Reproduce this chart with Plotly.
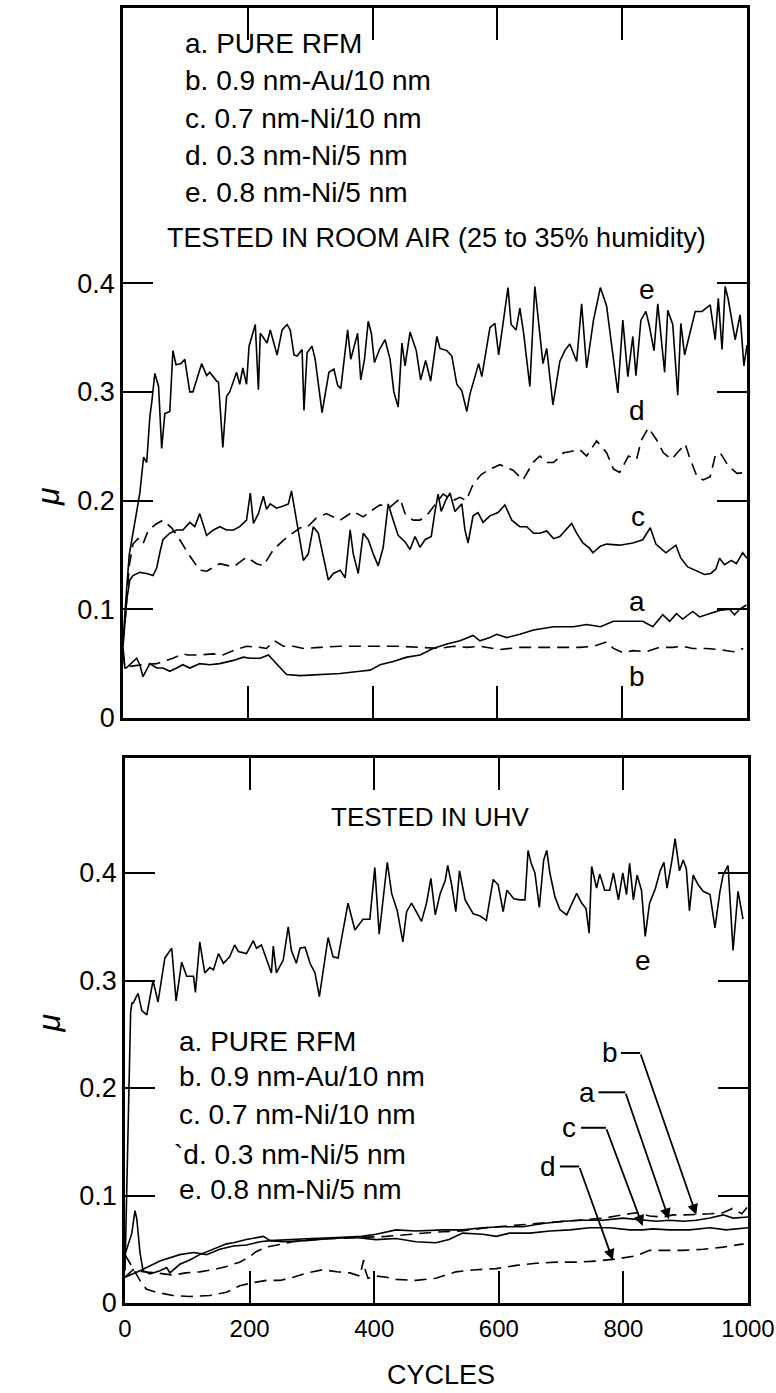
import plotly.graph_objects as go

W, H = 776, 1393
FONT = "Liberation Sans Narrow, Liberation Sans, Arial, sans-serif"

# ---- Room air tests: (cycles, friction coefficient) ----
air_a = [(0, 0.065), (3, 0.046), (5, 0.046), (13, 0.05), (22, 0.055), (27, 0.049), (32, 0.038),
         (43, 0.05), (54, 0.046), (64, 0.046), (75, 0.043), (86, 0.046), (96, 0.049), (107, 0.046),
         (123, 0.05), (139, 0.049), (155, 0.05), (177, 0.053), (193, 0.056), (204, 0.055),
         (220, 0.055), (233, 0.058), (241, 0.053), (252, 0.046), (262, 0.04), (284, 0.039),
         (316, 0.04), (348, 0.041), (380, 0.043), (396, 0.044), (412, 0.049), (433, 0.052),
         (455, 0.056), (476, 0.058), (497, 0.064), (519, 0.068), (540, 0.071), (556, 0.075),
         (561, 0.076), (572, 0.071), (588, 0.074), (599, 0.077), (615, 0.074), (636, 0.077),
         (658, 0.081), (690, 0.084), (722, 0.084), (743, 0.086), (765, 0.084), (786, 0.089),
         (807, 0.089), (833, 0.089), (849, 0.084), (865, 0.095), (876, 0.089), (887, 0.096),
         (897, 0.091), (913, 0.098), (924, 0.093), (940, 0.096), (956, 0.099), (972, 0.1),
         (980, 0.095), (988, 0.1), (999, 0.104)]

air_b = [(0, 0.06), (3, 0.047), (32, 0.049), (54, 0.05), (80, 0.055), (96, 0.059), (104, 0.058),
         (123, 0.058), (144, 0.059), (160, 0.058), (177, 0.062), (198, 0.066), (220, 0.065),
         (230, 0.064), (243, 0.071), (257, 0.066), (273, 0.066), (289, 0.064), (316, 0.065),
         (348, 0.066), (380, 0.066), (412, 0.066), (444, 0.066), (476, 0.065), (508, 0.064),
         (530, 0.066), (551, 0.065), (572, 0.066), (604, 0.063), (636, 0.065), (668, 0.065),
         (700, 0.065), (732, 0.065), (754, 0.066), (775, 0.07), (786, 0.064), (802, 0.06),
         (817, 0.062), (839, 0.061), (860, 0.065), (881, 0.065), (897, 0.066), (913, 0.064),
         (935, 0.064), (956, 0.063), (978, 0.061), (994, 0.064)]

air_c = [(0, 0.065), (6, 0.109), (11, 0.127), (16, 0.131), (27, 0.134), (38, 0.133), (48, 0.131),
         (54, 0.138), (59, 0.152), (64, 0.164), (75, 0.17), (86, 0.173), (96, 0.173), (107, 0.18),
         (115, 0.176), (123, 0.188), (134, 0.168), (145, 0.173), (155, 0.176), (166, 0.173),
         (177, 0.173), (187, 0.176), (198, 0.182), (204, 0.207), (209, 0.179), (217, 0.188),
         (225, 0.204), (230, 0.192), (236, 0.197), (246, 0.193), (257, 0.195), (265, 0.197),
         (270, 0.209), (278, 0.182), (284, 0.163), (289, 0.145), (297, 0.151), (305, 0.176),
         (313, 0.17), (321, 0.149), (329, 0.127), (337, 0.133), (348, 0.136), (356, 0.129),
         (364, 0.173), (369, 0.151), (377, 0.133), (385, 0.17), (393, 0.164), (401, 0.151),
         (409, 0.14), (417, 0.157), (425, 0.197), (433, 0.182), (441, 0.168), (452, 0.162),
         (460, 0.155), (468, 0.167), (476, 0.157), (484, 0.164), (494, 0.167), (500, 0.19),
         (505, 0.206), (510, 0.19), (517, 0.2), (524, 0.207), (532, 0.19), (543, 0.197),
         (548, 0.173), (553, 0.161), (561, 0.186), (569, 0.189), (577, 0.18), (588, 0.186),
         (601, 0.189), (612, 0.196), (623, 0.182), (636, 0.176), (647, 0.176), (658, 0.17),
         (668, 0.17), (679, 0.172), (690, 0.165), (700, 0.167), (711, 0.174), (719, 0.179),
         (727, 0.17), (737, 0.161), (748, 0.156), (753, 0.152), (765, 0.158), (775, 0.16),
         (796, 0.159), (817, 0.161), (833, 0.164), (845, 0.175), (854, 0.16), (870, 0.152),
         (886, 0.159), (894, 0.147), (905, 0.139), (921, 0.135), (932, 0.132), (942, 0.133),
         (950, 0.137), (956, 0.147), (964, 0.141), (975, 0.145), (983, 0.142), (993, 0.152),
         (1000, 0.147)]

air_d = [(0, 0.07), (5, 0.10), (10, 0.14), (16, 0.16), (24, 0.165), (32, 0.16), (40, 0.172),
         (52, 0.178), (64, 0.182), (78, 0.175), (91, 0.164), (107, 0.149), (123, 0.136),
         (134, 0.135), (155, 0.142), (177, 0.139), (198, 0.148), (214, 0.142), (225, 0.14),
         (241, 0.155), (262, 0.166), (284, 0.175), (294, 0.175), (310, 0.184), (326, 0.188),
         (348, 0.182), (369, 0.19), (385, 0.185), (396, 0.19), (412, 0.196), (428, 0.194),
         (444, 0.202), (452, 0.188), (465, 0.182), (476, 0.182), (489, 0.188), (497, 0.194),
         (513, 0.206), (529, 0.2), (540, 0.203), (550, 0.2), (561, 0.215), (574, 0.224),
         (588, 0.229), (604, 0.233), (625, 0.228), (641, 0.219), (657, 0.235), (668, 0.241),
         (679, 0.235), (690, 0.235), (706, 0.244), (716, 0.245), (732, 0.247), (743, 0.241),
         (759, 0.255), (775, 0.244), (786, 0.229), (796, 0.226), (810, 0.241), (823, 0.238),
         (831, 0.256), (842, 0.267), (855, 0.256), (866, 0.244), (879, 0.238), (893, 0.247),
         (901, 0.252), (909, 0.238), (920, 0.222), (930, 0.219), (941, 0.222), (949, 0.241),
         (957, 0.244), (970, 0.232), (984, 0.225), (1000, 0.226)]

air_e = [(0, 0.07), (3, 0.10), (6, 0.12), (10, 0.15), (16, 0.17), (21, 0.183), (27, 0.207),
         (33, 0.24), (38, 0.235), (43, 0.277), (46, 0.29), (51, 0.317), (57, 0.305), (62, 0.248),
         (67, 0.28), (75, 0.282), (80, 0.338), (85, 0.325), (93, 0.326), (99, 0.33), (107, 0.30),
         (112, 0.30), (126, 0.326), (134, 0.315), (139, 0.318), (150, 0.31), (153, 0.309),
         (160, 0.249), (166, 0.296), (171, 0.30), (182, 0.318), (187, 0.307), (192, 0.322),
         (198, 0.307), (202, 0.342), (212, 0.362), (217, 0.302), (220, 0.354), (231, 0.345),
         (236, 0.357), (247, 0.334), (255, 0.357), (263, 0.362), (268, 0.357), (274, 0.334),
         (279, 0.333), (287, 0.339), (290, 0.283), (295, 0.336), (303, 0.342), (308, 0.330),
         (319, 0.281), (330, 0.318), (338, 0.321), (344, 0.306), (349, 0.303), (360, 0.357),
         (365, 0.33), (376, 0.354), (381, 0.311), (387, 0.33), (393, 0.365), (398, 0.354),
         (403, 0.327), (411, 0.339), (420, 0.348), (428, 0.33), (434, 0.30), (441, 0.286),
         (447, 0.345), (452, 0.324), (460, 0.355), (470, 0.338), (477, 0.311), (485, 0.329),
         (493, 0.31), (503, 0.351), (508, 0.34), (519, 0.338), (527, 0.333), (535, 0.307),
         (543, 0.301), (551, 0.282), (556, 0.298), (570, 0.326), (575, 0.314), (588, 0.359),
         (596, 0.363), (602, 0.334), (617, 0.396), (622, 0.362), (630, 0.357), (636, 0.377),
         (642, 0.354), (652, 0.305), (660, 0.397), (673, 0.326), (679, 0.34), (689, 0.288),
         (700, 0.328), (708, 0.338), (716, 0.344), (727, 0.328), (735, 0.381), (743, 0.322),
         (754, 0.366), (765, 0.396), (775, 0.379), (786, 0.333), (793, 0.299), (801, 0.366),
         (809, 0.314), (817, 0.351), (822, 0.315), (830, 0.366), (838, 0.374), (843, 0.362),
         (851, 0.338), (857, 0.381), (868, 0.318), (873, 0.375), (881, 0.362), (889, 0.297),
         (894, 0.363), (900, 0.334), (917, 0.374), (928, 0.374), (941, 0.38), (949, 0.348),
         (954, 0.386), (960, 0.339), (965, 0.397), (970, 0.385), (981, 0.348), (989, 0.371),
         (995, 0.324), (1000, 0.343)]

# ---- UHV tests: (cycles, friction coefficient) ----
uhv_a = [(0, 0.024), (24, 0.03), (56, 0.039), (88, 0.045), (110, 0.047), (131, 0.045), (152, 0.05),
         (174, 0.053), (195, 0.054), (217, 0.057), (233, 0.058), (260, 0.059), (300, 0.06),
         (340, 0.061), (380, 0.062), (403, 0.064), (435, 0.068), (467, 0.067), (510, 0.068),
         (542, 0.068), (574, 0.07), (606, 0.071), (639, 0.071), (671, 0.074), (703, 0.076),
         (735, 0.077), (767, 0.077), (799, 0.079), (831, 0.077), (853, 0.076), (874, 0.077),
         (896, 0.076), (917, 0.077), (939, 0.079), (960, 0.082), (976, 0.079), (1000, 0.08)]

uhv_b = [(0, 0.024), (13, 0.031), (29, 0.029), (50, 0.028), (77, 0.026), (98, 0.028), (120, 0.029),
         (142, 0.031), (163, 0.034), (184, 0.038), (200, 0.043), (211, 0.048), (227, 0.052),
         (243, 0.054), (270, 0.057), (300, 0.059), (340, 0.06), (380, 0.061), (420, 0.062),
         (460, 0.064), (500, 0.066), (540, 0.067), (580, 0.07), (620, 0.072), (660, 0.074),
         (700, 0.076), (740, 0.078), (770, 0.079), (788, 0.081), (820, 0.084), (842, 0.081),
         (863, 0.08), (880, 0.082), (900, 0.082), (940, 0.083), (960, 0.084), (975, 0.088),
         (990, 0.083), (1000, 0.09)]

uhv_c = [(0, 0.045), (11, 0.065), (16, 0.086), (19, 0.078), (24, 0.047), (29, 0.03), (40, 0.027),
         (56, 0.03), (67, 0.033), (72, 0.028), (88, 0.036), (104, 0.04), (120, 0.045), (142, 0.05),
         (163, 0.055), (174, 0.056), (195, 0.059), (222, 0.062), (233, 0.058), (254, 0.057),
         (290, 0.058), (330, 0.06), (370, 0.061), (403, 0.059), (435, 0.06), (467, 0.057),
         (499, 0.056), (520, 0.059), (542, 0.065), (574, 0.064), (596, 0.062), (617, 0.065),
         (650, 0.065), (682, 0.067), (714, 0.068), (746, 0.07), (778, 0.07), (810, 0.068),
         (831, 0.068), (847, 0.069), (874, 0.068), (906, 0.068), (939, 0.07), (965, 0.068),
         (1000, 0.07)]

uhv_d = [(0, 0.045), (10, 0.035), (24, 0.021), (34, 0.013), (50, 0.01), (77, 0.007), (104, 0.006),
         (136, 0.007), (163, 0.01), (184, 0.016), (206, 0.019), (227, 0.021), (249, 0.021),
         (270, 0.024), (292, 0.028), (318, 0.031), (340, 0.029), (361, 0.028), (377, 0.025),
         (383, 0.04), (386, 0.03), (390, 0.023), (404, 0.025), (420, 0.024), (435, 0.022),
         (467, 0.021), (499, 0.023), (531, 0.029), (564, 0.031), (596, 0.032), (628, 0.035),
         (660, 0.037), (692, 0.038), (724, 0.038), (756, 0.039), (789, 0.041), (821, 0.044),
         (842, 0.049), (864, 0.049), (896, 0.049), (928, 0.05), (960, 0.052), (993, 0.055)]

uhv_e = [(0, 0.03), (3, 0.12), (6, 0.21), (9, 0.27), (11, 0.279), (13, 0.279), (21, 0.288),
         (27, 0.272), (35, 0.268), (45, 0.3), (53, 0.28), (64, 0.321), (75, 0.33), (82, 0.281),
         (91, 0.317), (99, 0.304), (110, 0.304), (113, 0.289), (120, 0.336), (128, 0.307),
         (136, 0.312), (142, 0.31), (150, 0.325), (158, 0.316), (168, 0.322), (176, 0.333),
         (182, 0.327), (195, 0.325), (206, 0.337), (211, 0.33), (219, 0.333), (230, 0.316),
         (235, 0.307), (238, 0.332), (243, 0.307), (254, 0.319), (262, 0.35), (267, 0.328),
         (275, 0.316), (281, 0.33), (289, 0.331), (297, 0.316), (305, 0.307), (312, 0.285),
         (318, 0.307), (326, 0.34), (334, 0.322), (342, 0.321), (347, 0.337), (358, 0.372),
         (369, 0.347), (382, 0.357), (393, 0.357), (401, 0.405), (408, 0.343), (421, 0.41),
         (428, 0.381), (437, 0.365), (446, 0.336), (452, 0.364), (460, 0.372), (468, 0.364),
         (476, 0.355), (484, 0.372), (491, 0.395), (498, 0.361), (506, 0.381), (514, 0.393),
         (518, 0.407), (524, 0.39), (531, 0.364), (537, 0.402), (546, 0.375), (559, 0.362),
         (570, 0.36), (580, 0.356), (591, 0.394), (599, 0.389), (607, 0.364), (613, 0.384),
         (624, 0.376), (634, 0.375), (642, 0.375), (647, 0.421), (652, 0.409), (658, 0.4),
         (665, 0.368), (672, 0.412), (677, 0.421), (682, 0.4), (690, 0.378), (698, 0.366),
         (709, 0.361), (717, 0.371), (725, 0.381), (733, 0.372), (740, 0.367), (745, 0.344),
         (749, 0.406), (757, 0.386), (762, 0.399), (770, 0.384), (778, 0.384), (784, 0.4),
         (792, 0.375), (799, 0.4), (805, 0.38), (810, 0.409), (816, 0.375), (822, 0.398),
         (829, 0.384), (835, 0.341), (842, 0.372), (851, 0.385), (859, 0.402), (865, 0.41),
         (870, 0.386), (878, 0.412), (883, 0.432), (890, 0.402), (896, 0.412), (901, 0.404),
         (906, 0.365), (912, 0.398), (920, 0.389), (928, 0.383), (939, 0.38), (947, 0.349),
         (955, 0.383), (960, 0.398), (968, 0.407), (976, 0.328), (984, 0.383), (992, 0.357)]

legend_lines = ["a. PURE RFM", "b. 0.9 nm-Au/10 nm", "c. 0.7 nm-Ni/10 nm",
                "d. 0.3 nm-Ni/5 nm", "e. 0.8 nm-Ni/5 nm"]
uhv_legend_lines = ["a. PURE RFM", "b. 0.9 nm-Au/10 nm", "c. 0.7 nm-Ni/10 nm",
                    "`d. 0.3 nm-Ni/5 nm", "e. 0.8 nm-Ni/5 nm"]
x_ticks = [0, 200, 400, 600, 800, 1000]
y_ticks = [0, 0.1, 0.2, 0.3, 0.4]
y_tick_text = ["0", "0.1", "0.2", "0.3", "0.4"]

# curve letter tags placed beside the traces (cycles, mu)
air_tags = [("e", 840, 0.394), ("d", 824, 0.283), ("c", 825, 0.185), ("a", 824, 0.107), ("b", 824, 0.038)]
# UHV leader callouts: letter, label pos, elbow segment x-range, arrow tip
uhv_callouts = [("b", (778, 0.2326), (796, 827), (917, 0.082)),
                ("a", (742, 0.196), (760, 803), (873, 0.078)),
                ("c", (713, 0.163), (732, 772), (831, 0.0716)),
                ("d", (679, 0.127), (698, 729), (783, 0.040))]

fig = go.Figure()


def add_curve(series, xa, ya, dash):
    xs, ys = zip(*series)
    fig.add_trace(go.Scatter(x=list(xs), y=list(ys), mode="lines", xaxis=xa, yaxis=ya,
                             line=dict(color="black", width=1.6, dash=dash),
                             showlegend=False, hoverinfo="skip"))


DASH = "12px,7px"
for s, d in [(air_a, "solid"), (air_b, DASH), (air_c, "solid"), (air_d, DASH), (air_e, "solid")]:
    add_curve(s, "x", "y", d)
for s, d in [(uhv_a, "solid"), (uhv_b, DASH), (uhv_c, "solid"), (uhv_d, DASH), (uhv_e, "solid")]:
    add_curve(s, "x2", "y2", d)

axis_common = dict(showline=True, linewidth=2.5, linecolor="black", mirror="ticks",
                   ticks="inside", tickwidth=2, tickcolor="black", showgrid=False,
                   zeroline=False, fixedrange=True, ticklabeloverflow="allow")

fig.update_layout(
    width=W, height=H,
    paper_bgcolor="white", plot_bgcolor="white",
    margin=dict(l=0, r=0, t=0, b=0, autoexpand=False),
    font=dict(family=FONT, color="black"),
    xaxis=dict(domain=[123 / W, 747 / W], range=[0, 1000], anchor="y", tickvals=x_ticks,
               showticklabels=False, ticklen=32, **axis_common),
    yaxis=dict(domain=[(H - 718) / H, (H - 8) / H], range=[0, 710 / 1087], anchor="x",
               tickvals=y_ticks, ticktext=y_tick_text, ticklen=30,
               tickfont=dict(size=27, family=FONT), ticklabelstandoff=0, **axis_common),
    xaxis2=dict(domain=[125 / W, 748 / W], range=[0, 1000], anchor="y2", tickvals=x_ticks,
                ticktext=[str(v) for v in x_ticks], ticklen=32,
                tickfont=dict(size=24, family=FONT), ticklabelstandoff=2, **axis_common),
    yaxis2=dict(domain=[(H - 1303) / H, (H - 758) / H], range=[0, 545 / 1075], anchor="x2",
                tickvals=y_ticks, ticktext=y_tick_text, ticklen=30,
                tickfont=dict(size=27, family=FONT), ticklabelstandoff=0, **axis_common),
)

ann = []


def paper_text(text, px, py, size=27, anchor="left"):
    ann.append(dict(text=text, x=px / W, y=1 - py / H, xref="paper", yref="paper",
                    xanchor=anchor, yanchor="middle", showarrow=False,
                    font=dict(size=size, family=FONT, color="black")))


for i, t in enumerate(legend_lines):
    paper_text(t, 183, 43 + 37.5 * i, size=28)
paper_text("TESTED IN ROOM AIR (25 to 35% humidity)", 436, 238, size=27, anchor="center")
paper_text("TESTED IN UHV", 430, 817, size=26, anchor="center")
for t, py in zip(uhv_legend_lines, [1041, 1076, 1114, 1154, 1189]):
    paper_text(t, 172 if t.startswith("`") else 177, py, size=28)
paper_text("CYCLES", 441, 1375, size=27, anchor="center")

for py in (497, 1035):
    ann.append(dict(text="<i>μ</i>", x=28 / W, y=1 - py / H, xref="paper", yref="paper",
                    showarrow=False, textangle=-90, font=dict(size=32, family=FONT, color="black")))

for t, cx, cy in air_tags:
    ann.append(dict(text=t, x=cx, y=cy, xref="x", yref="y", showarrow=False,
                    font=dict(size=28, family=FONT, color="black")))
ann.append(dict(text="e", x=831, y=0.319, xref="x2", yref="y2", showarrow=False,
                font=dict(size=28, family=FONT, color="black")))

for t, (lx, ly), (x0, x1), (tx, ty) in uhv_callouts:
    ann.append(dict(text=t, x=lx, y=ly, xref="x2", yref="y2", showarrow=False,
                    font=dict(size=28, family=FONT, color="black")))
    fig.add_shape(type="line", x0=x0, x1=x1, y0=ly, y1=ly, xref="x2", yref="y2",
                  line=dict(color="black", width=2))
    ann.append(dict(text="", x=tx, y=ty, ax=x1, ay=ly, xref="x2", yref="y2",
                    axref="x2", ayref="y2", showarrow=True, arrowhead=2, arrowsize=1.2,
                    arrowwidth=1.8, arrowcolor="black", standoff=0))

fig.update_layout(annotations=ann)
fig.write_html("out.html")
